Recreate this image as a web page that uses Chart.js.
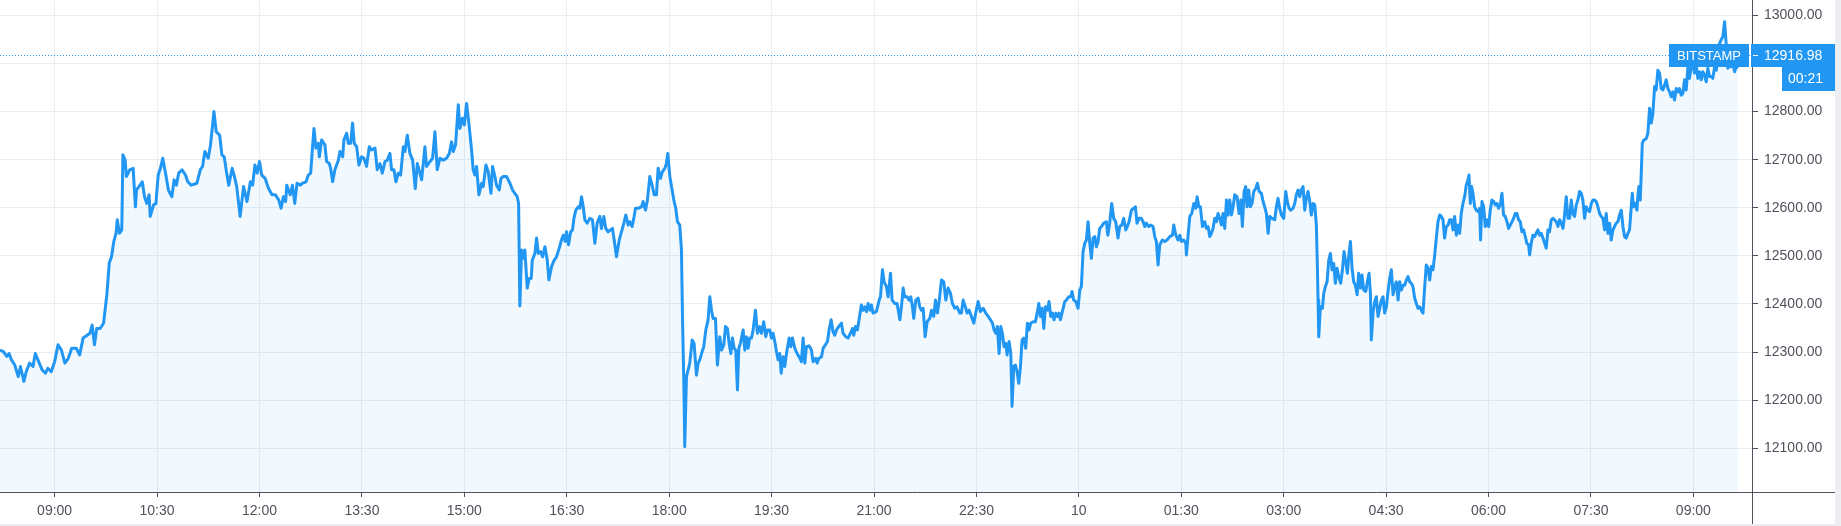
<!DOCTYPE html>
<html lang="en">
<head>
<meta charset="UTF-8">
<title>BTCUSD Bitstamp</title>
<style>
  html, body { margin: 0; padding: 0; background: #eceef2; }
  .chart-container { width: 1835px; height: 524px; background: #ffffff; }
</style>
<script src="https://cdn.jsdelivr.net/npm/chart.js"></script>
</head>
<body>
<div class="chart-container"><canvas id="priceChart" width="1835" height="524"></canvas></div>
<script>
// time = minutes from 00:00 of the first day, price in USD
const times = [
  492,495,498,500,502,505,508,510,513,515,518,521,523,526,529,532,534,537,540,543,
  546,549,552,555,559,562,565,568,571,573,575,577,580,583,585,586,588,590,592,594,
  595,597,599,600,602,603,606,609,611,612,615,617,619,621,623,624,627,629,631,633,
  635,638,640,643,645,647,649,652,655,657,660,665,668,670,672,675,677,680,682,685,
  687,689,691,693,696,698,700,703,706,709,712,714,716,718,720,722,725,728,731,734,
  737,739,741,743,744,747,749,751,753,756,
  757.9,760.9,762.9,765.0,766.4,767.9,769.6,771.7,772.6,774.6,777.5,779.0,781.4,782.5,784.3,786.3,789.3,790.7,793.1,794.2,
  796.6,798.0,800.1,801.8,803.3,805.4,807.4,809.8,811.8,814.1,816.5,818.5,821.5,823.5,825.9,827.9,830.3,832.3,834.6,836.1,
  838.2,839.9,842.0,844.0,846.4,847.8,849.9,852.2,854.6,856.9,858.7,861.0,862.5,865.4,866.8,869.8,872.1,874.2,876.2,878.6,
  881.5,884.4,886.8,888.8,890.3,892.3,894.7,896.1,898.2,900.0,902.0,904.0,906.4,907.8,909.3,910.8,912.8,915.2,916.6,919.0,
  921.0,923.4,924.8,926.9,928.3,930.7,932.2,934.2,937.1,940.1,942.4,944.4,946.5,947.7,948.8,950.3,951.8,953.2,955.3,957.0,
  958.8,959.7,962.0,963.5,965.0,967.0,968.8,970.8,972.9,974.3,976.7,979.0,981.0,983.4,985.4,986.9,988.7,989.8,991.6,993.4,
  995.1,996.3,998.0,1000.1,1001.5,1003.0,1004.5,1005.9,1008.0,1010.3,
  1012.6,1014.7,1016.7,1019.1,1020.5,1022.6,1024.3,1026.4,1028.4,1030.2,1031.7,1033.7,1036.1,1038.1,1040.2,1041.9,1044.0,1045.4,1047.5,1049.2,
  1050.4,1052.7,1055.7,1057.1,1059.2,1060.9,1063.0,1065.3,1066.8,1068.8,1070.3,1072.4,1074.1,1076.2,1077.6,1078.8,1080.6,1082.6,1084.1,1085.8,
  1087.3,1089.3,1090.8,1091.7,1092.9,1093.7,1095.2,1096.7,1098.1,1100.2,1101.9,1104.0,1105.5,1106.9,1109.0,1110.4,1112.2,1114.2,1115.7,1117.2,
  1118.6,1120.7,1122.4,1124.5,1126.0,1128.0,1129.5,1131.2,1132.7,1134.2,1135.6,1137.1,1138.5,1140.0,1141.2,1142.6,1145.0,1146.5,1147.9,1149.4,
  1150.8,1152.3,1153.8,1155.8,1157.6,1159.6,1161.1,1163.1,1164.9,1166.4,1168.4,1169.9,1171.3,1172.8,1174.3,1175.7,1177.2,1178.4,1180.1,1181.6,
  1183.1,1185.4,1186.9,1188.3,1190.4,1192.4,1194.2,1196.2,1197.7,1199.2,1200.6,1203.0,1205.0,1206.5,1208.8,1210.0,1211.7,1213.8,1215.3,1217.3,
  1219.1,1220.5,1222.3,1224.0,1225.5,1227.0,1229.0,1231.4,1232.8,1235.2,1237.2,1239.3,1241.0,1242.2,1243.7,1245.4,1247.5,1248.9,1250.4,1251.9,
  1253.3,1254.8,1256.3,1257.7,1259.2,1262.1,1265.0,
  1265.7,1267.4,1268.9,1270.9,1272.4,1274.5,1275.9,1278.3,1280.3,1282.7,1284.1,1285.6,1287.0,1289.1,1290.9,1292.3,1293.8,1294.9,1296.7,1298.8,
  1300.2,1301.7,1303.2,1304.9,1306.7,1309.0,1310.5,1312.5,1314.0,1315.7,1317.2,1319.3,1321.3,1323.1,1325.1,1327.2,1328.9,1331.0,1333.0,1335.4,
  1336.8,1338.3,1340.3,1341.8,1343.6,1345.6,1347.7,1349.4,1351.5,1353.5,1355.9,1358.2,1360.3,1362.3,1364.1,1365.5,1367.0,1368.4,1369.9,1371.4,
  1372.8,1374.3,1375.8,1376.9,1378.7,1380.2,1381.3,1382.8,1384.3,1385.7,1387.2,1388.7,1390.1,1391.6,1393.3,1394.8,1396.3,1397.7,1399.8,1401.8,
  1403.6,1404.8,1406.2,1407.7,1409.2,1410.6,1412.4,1413.8,1415.3,1416.8,1418.2,1419.7,1421.2,1422.6,1423.8,1425.5,1427.6,1429.1,1431.1,1432.9,
  1434.0,1435.5,1437.3,1439.3,1440.8,1442.2,1443.7,1445.2,1446.6,1448.1,1449.6,1451.0,1452.5,1454.0,1455.4,1456.9,1458.3,1459.8,1461.9,1464.2,
  1465.4,1467.1,1468.9,1470.6,1472.4,1474.4,1475.9,1477.7,1479.4,1481.2,1482.6,1484.1,1486.2,1488.2,1489.7,1491.1,1492.9,1494.9,1496.4,1497.9,
  1499.3,1501.4,1503.1,1505.2,1506.7,1508.1,1509.6,1511.1,1513.4,1515.4,1517.5,1519.9,
  1522.2,1523.4,1525.2,1527.2,1528.7,1530.1,1532.2,1534.0,1534.5,1536.0,1537.5,1539.2,1541.0,1542.7,1543.9,1545.4,1546.8,1548.6,1550.6,1552.1,
  1553.6,1555.0,1556.5,1557.9,1559.4,1560.9,1562.3,1563.8,1565.3,1566.7,1568.2,1569.7,1571.1,1572.6,1574.1,1575.5,1577.0,1579.0,1580.8,1582.3,
  1583.7,1585.2,1586.6,1587.8,1589.3,1590.7,1592.2,1593.7,1595.4,1596.9,1598.4,1600.4,1601.9,1603.3,1604.8,1606.3,1607.7,1609.8,1612.1,1613.6,
  1615.0,1616.5,1618.0,1620.0,1621.8,1623.2,1624.7,1626.2,1628.2,1629.7,1631.1,1632.6,1634.1,1635.5,1637.0,1638.5,1639.9,1641.4,1642.9,1644.3,
  1645.8,1647.3,1648.7,1649.6,1650.2,1650.8,1652.2,1654.0,1655.2,1656.6,1658.1,1659.6,1661.0,1662.5,1664.0,1665.4,1666.9,1668.3,1670.1,1671.6,
  1673.0,1674.5,1676.0,1677.1,1678.6,1680.1,1681.5,1683.0,1684.5,1685.9,1687.4,1688.8,1690.3,1692.1,1693.5,1695.0,1696.2,1697.0,1698.5,1700.0,
  1701.4,1702.9,1704.4,1705.8,1707.3,1708.7,1710.2,1711.7,1713.1,1714.6,1716.1,1717.5,1719.0,1720.5,1721.9,1723.4,1724.9,1726.3,1727.8,1729.2,
  1730.7,1732.2,1733.6,1735.1,1736.6,1738.0,1739.5,1740.9,1742.4,1743.9,1745.3,1746.8,1748.3,1749.7,1751.2,1752.7,1754.1,1755.6,1757.1,1758.5,
  1760.0,1761.4,1762.9,1764.4,1765.8,1767.3,1768.8,1770.2,1771.7,1773.2,1774.6,
  1776.0,1777.5,1779.0,1780.4,1781.9,1782.8,1784.0,1785.1,1786.3,1787.8,1789.2,1790.7,1792.2,1793.0,1794.2,1795.7,1797.1,1798.6,1800.1,1801.5,
  1803.0,1804.5,1805.9,1807.4,1808.8,1810.3,1811.8,1813.2,1814.7,1816.2,1817.6,1819.1,1820.6,1822.0,1823.5,1825.0,1826.4,1827.9,1829.3,1830.8,
  1832.3,1833.7,1835.2,1836.1,1837.5,1839.0,1840.5,1841.9,1843.4,1844.9,1846.3,1847.8,1849.3,1850.7,1852.2,1853.6,1855.1,1856.6,1858.0,1859.5,
  1861.0,1862.4,1863.9,1865.4,1866.8,1868.3,1869.8,1871.2,1872.7,1874.1,1875.6,1877.1,1878.5,1880.0,1881.5,1882.9,1884.4,1885.9,1887.3,1888.8,
  1890.3,1891.7,1893.2,1894.6,1896.1,1897.6,1899.0,1900.5,1902.0,1903.4,1904.9,1906.4,1907.8,1909.3,1910.7,1912.2,1913.7,1915.1,1916.6,1918.1,
  1919.5,1921.0,1922.5,1923.9,1925.4,1926.3,1927.4,1928.9,1930.4,1931.2,1932.1,1933.3,1934.2,1935.1,1936.5,1938.6,1940.0,1941.5,1943.0,1944.4,
  1945.9,1947.3,1948.8,1950.3,1951.7,1953.2,1954.7,1956.1,1957.6,1959.1,1960.5,1962.0,1963.4,1964.9,1966.4,1967.8,1969.3,1970.8,1972.2,1973.7,
  1975.2,1976.6,1978.1,1979.6,1981.0,1982.5,1983.9,1985.4,1986.9,1988.3,1989.8,1991.3,1992.7,1994.2,1995.7,1997.1,1998.6,2000.1,2001.5,2003.0,
  2004.4,2005.9,2007.4,2008.8,2010.3,2011.8,2013.2,2014.7,2016.2,2017.6,2019.1
];
const prices = [
  12304,12301,12291,12297,12284,12273,12249,12270,12239,12259,12277,12270,12297,12280,12263,12256,12266,12259,12280,12315,
  12304,12277,12287,12308,12308,12294,12329,12334,12339,12356,12315,12349,12349,12360,12401,12422,12485,12498,12530,12547,
  12575,12547,12554,12710,12699,12665,12679,12682,12602,12637,12647,12654,12623,12609,12627,12582,12606,12609,12668,12682,
  12703,12665,12637,12623,12658,12647,12672,12679,12668,12654,12647,12651,12679,12686,12717,12703,12731,12800,12758,12751,
  12710,12706,12675,12647,12682,12665,12644,12582,12644,12613,12654,12647,12689,12672,12696,12668,12661,12640,12627,12627,
  12616,12599,12623,12613,12647,12627,12647,12609,12651,12647,
  12651,12654,12668,12672,12720,12765,12724,12734,12706,12741,12731,12696,12692,12682,12654,12679,12699,12717,12706,12741,
  12755,12734,12734,12776,12734,12727,12689,12706,12703,12686,12727,12720,12724,12679,12692,12672,12696,12699,12713,12679,
  12679,12654,12672,12668,12727,12717,12751,12713,12699,12640,12692,12672,12658,12727,12686,12696,12703,12758,12679,12703,
  12699,12703,12713,12737,12717,12731,12814,12765,12786,12772,12817,12776,12720,12679,12668,12686,12627,12651,12644,12689,
  12675,12630,12686,12665,12647,12637,12661,12665,12665,12651,12637,12630,12623,12609,12396,12512,12495,12512,12433,12453,
  12453,12491,12505,12537,12505,12509,12498,12519,12491,12450,12478,12491,12498,12516,12533,12543,12530,12550,12523,12550,
  12554,12578,12595,12602,12599,12623,12602,12575,12568,12578,
  12575,12526,12568,12582,12557,12582,12557,12550,12554,12557,12533,12498,12533,12550,12568,12585,12564,12571,12561,12582,
  12599,12599,12602,12613,12595,12616,12665,12644,12627,12627,12682,12661,12675,12682,12692,12713,12665,12637,12616,12599,
  12571,12564,12512,12374,12235,12103,12249,12263,12277,12325,12318,12252,12277,12284,12301,12311,12346,12367,12415,12387,
  12370,12370,12273,12332,12304,12315,12353,12349,12318,12297,12329,12308,12304,12221,12308,12318,12346,12304,12332,12308,
  12329,12329,12346,12387,12339,12353,12339,12363,12332,12346,12346,12329,12339,12322,12301,12284,12297,12256,12290,12270,
  12297,12329,12311,12329,12308,12297,12290,12280,12329,12277,12311,12313,12304,12280,12287,12277,12287,12290,12308,12315,
  12322,12346,12367,12342,12335,12346,12353,12360,12339,12332,12329,12339,12349,12335,12353,12346,12377,12398,12387,12394,
  12384,12401,12387,12398,12381,12384,12412,
  12415,12471,12446,12436,12415,12464,12408,12401,12401,12367,12394,12433,12415,12415,12408,12415,12394,12370,12408,12412,
  12394,12387,12391,12332,12363,12370,12387,12374,12408,12381,12405,12450,12446,12408,12433,12422,12401,12391,12394,12381,
  12381,12408,12394,12381,12387,12374,12360,12381,12405,12384,12391,12381,12374,12367,12360,12346,12339,12353,12297,12353,
  12339,12311,12318,12294,12322,12297,12187,12270,12273,12259,12235,12270,12325,12329,12308,12360,12346,12360,12363,12363,
  12384,12401,12374,12391,12349,12394,12387,12405,12374,12381,12367,12381,12374,12381,12367,12384,12405,12408,12415,12415,
  12426,12408,12405,12391,12429,12436,12509,12526,12533,12571,12526,12495,12537,12540,12519,12530,12557,12561,12568,12571,
  12543,12568,12609,12578,12571,12537,12561,12564,12578,12554,12561,12571,12595,12599,12602,12568,12578,12578,12571,12561,
  12568,12561,12564,12561,12540,12530,12481,12523,12533,12530,12533,12540,
  12543,12564,12543,12533,12543,12530,12533,12526,12502,12543,12582,12588,12609,12599,12623,12602,12602,12561,12571,12557,
  12561,12540,12547,12557,12578,12571,12588,12578,12564,12588,12557,12616,12585,12616,12585,12602,12627,12623,12588,12616,
  12561,12634,12644,12602,12637,12602,12609,12634,12640,12651,12634,12630,12613,12602,12588,12547,12582,12578,12575,12602,
  12620,12599,12585,12578,12634,12613,12599,12595,12599,12609,12627,12637,12623,12637,12644,12595,12620,12634,12613,12585,
  12609,12606,12564,12478,12408,12332,12394,12391,12422,12436,12446,12491,12505,12471,12484,12443,12474,12457,12443,12471,
  12509,12488,12464,12498,12530,12474,12446,12439,12419,12464,12433,12460,12429,12426,12446,12464,12422,12325,12381,12405,
  12415,12374,12391,12408,12415,12381,12394,12426,12453,12471,12419,12436,12446,12408,12446,12429,12439,12439,12450,12457,
  12446,12443,12436,12412,12401,12391,12394,12387,12381,12436,12481,12474,12450,12478,12471,12502,12537,12571,12585,12582,
  12575,12537,12561,12564,12575,12575,12554,12582,12543,12564,12547,
  12588,12609,12623,12647,12658,12668,12609,12644,12630,12602,12595,12592,12599,12533,12613,12602,12561,12575,12561,12595,
  12616,12613,12606,12609,12599,12606,12630,12585,12582,12571,12557,12564,12571,12578,12588,12588,12575,12571,12550,12554,
  12540,12526,12523,12502,12526,12543,12540,12547,12554,12543,12547,12537,12526,12516,12554,12550,12575,12578,12575,12571,
  12561,12575,12568,12557,12585,12623,12578,12578,12616,12588,12582,12606,12616,12634,12630,12616,12578,12602,12595,12592,
  12609,12616,12616,12613,12602,12588,12582,12578,12554,12588,12547,12568,12533,12554,12561,12568,12571,12585,12595,12561,
  12540,12537,12547,12554,12602,12630,12602,12609,12595,12623,12644,12616,12672,12734,12741,12744,12755,12807,12776,12796,
  12852,12845,12886,12880,12848,12845,12855,12866,12848,12841,12831,12841,12824,12848,12841,12848,12834,12838,12866,12845,
  12893,12869,12893,12897,12880,12897,12869,12883,12866,12883,12876,12862,12890,12873,12873,12869,12893,12886,12914,12942,
  12949,12956,12987,12942,12890,12897,12893,12900,12883,12893,12890
];
const xTickTimes = [540, 630, 720, 810, 900, 990, 1080, 1170, 1260, 1350, 1440, 1530, 1620, 1710, 1800, 1890, 1980];
const xTickLabels = ['09:00', '10:30', '12:00', '13:30', '15:00', '16:30', '18:00', '19:30', '21:00', '22:30', '10', '01:30', '03:00', '04:30', '06:00', '07:30', '09:00'];
const yTicks = [12100, 12200, 12300, 12400, 12500, 12600, 12700, 12800, 12900, 13000];
const lastPrice = 12916.98;
const exchangeName = 'BITSTAMP';
const countdown = '00:21';

const blue = '#2196f3';
const textColor = '#4f525c';
const axisColor = '#50535e';
const gridColor = '#e8eef4';
const fontFamily = '"Liberation Sans", Arial, sans-serif';

// price line, axis lines and the blue labels on the right
const overlay = {
    id: 'overlay',
    beforeDatasetsDraw(chart) {
        const { ctx, chartArea, scales } = chart;
        const y = Math.round(scales.y.getPixelForValue(lastPrice)) + 0.5;
        ctx.save();
        ctx.strokeStyle = blue;
        ctx.lineWidth = 1;
        ctx.setLineDash([1, 2]);
        ctx.beginPath();
        ctx.moveTo(chartArea.left, y);
        ctx.lineTo(chartArea.right, y);
        ctx.stroke();
        ctx.restore();
    },
    afterDraw(chart) {
        const { ctx, chartArea, scales, width, height } = chart;
        const r = chartArea.right;
        ctx.save();
        ctx.strokeStyle = axisColor;
        ctx.lineWidth = 1;
        ctx.beginPath();
        ctx.moveTo(0, chartArea.bottom + 0.5);
        ctx.lineTo(width, chartArea.bottom + 0.5);
        ctx.moveTo(r + 0.5, 0);
        ctx.lineTo(r + 0.5, height);
        ctx.stroke();

        const y = Math.round(scales.y.getPixelForValue(lastPrice));
        ctx.fillStyle = blue;
        ctx.fillRect(r - 83, y - 11, 80, 23);
        ctx.fillRect(r - 1, y - 11, width - r + 1, 23);
        ctx.fillRect(r + 30, y + 12, width - r - 30, 24);

        ctx.strokeStyle = '#ffffff';
        ctx.beginPath();
        ctx.moveTo(r + 1, y + 0.5);
        ctx.lineTo(r + 6, y + 0.5);
        ctx.stroke();

        ctx.fillStyle = '#ffffff';
        ctx.textBaseline = 'middle';
        ctx.font = '13px ' + fontFamily;
        ctx.textAlign = 'center';
        ctx.fillText(exchangeName, r - 43, y + 1);
        ctx.font = '14px ' + fontFamily;
        ctx.textAlign = 'left';
        ctx.fillText(lastPrice.toFixed(2), r + 12, y + 1);
        ctx.textAlign = 'right';
        ctx.fillText(countdown, r + 71, y + 24);
        ctx.restore();
    }
};

const ctx = document.getElementById('priceChart').getContext('2d');
new Chart(ctx, {
    type: 'line',
    data: {
        datasets: [{
            data: times.map((t, i) => ({ x: t, y: prices[i] })),
            borderColor: blue,
            borderWidth: 3,
            backgroundColor: 'rgba(33, 150, 243, 0.06)',
            fill: 'start',
            pointRadius: 0,
            tension: 0,
            borderJoinStyle: 'round'
        }]
    },
    options: {
        responsive: false,
        animation: false,
        devicePixelRatio: 1,
        layout: { padding: 0 },
        plugins: {
            legend: { display: false },
            tooltip: { enabled: false }
        },
        scales: {
            x: {
                type: 'linear',
                min: 492,
                max: 2031.5,
                afterBuildTicks: scale => { scale.ticks = xTickTimes.map(v => ({ value: v })); },
                afterFit: scale => { scale.height = 32; scale.paddingLeft = 0; scale.paddingRight = 0; },
                ticks: {
                    autoSkip: false,
                    maxRotation: 0,
                    padding: 6,
                    color: textColor,
                    font: { family: fontFamily, size: 14 },
                    callback: (value, index) => xTickLabels[index]
                },
                grid: { color: gridColor, tickColor: axisColor, tickLength: 5 },
                border: { display: false }
            },
            y: {
                position: 'right',
                min: 12009,
                max: 13032,
                afterBuildTicks: scale => { scale.ticks = yTicks.map(v => ({ value: v })); },
                afterFit: scale => { scale.width = 83; scale.paddingTop = 0; scale.paddingBottom = 0; },
                ticks: {
                    padding: 6,
                    color: textColor,
                    font: { family: fontFamily, size: 14 },
                    callback: value => value.toFixed(2)
                },
                grid: { color: gridColor, tickColor: axisColor, tickLength: 6 },
                border: { display: false }
            }
        }
    },
    plugins: [overlay]
});
</script>
</body>
</html>
